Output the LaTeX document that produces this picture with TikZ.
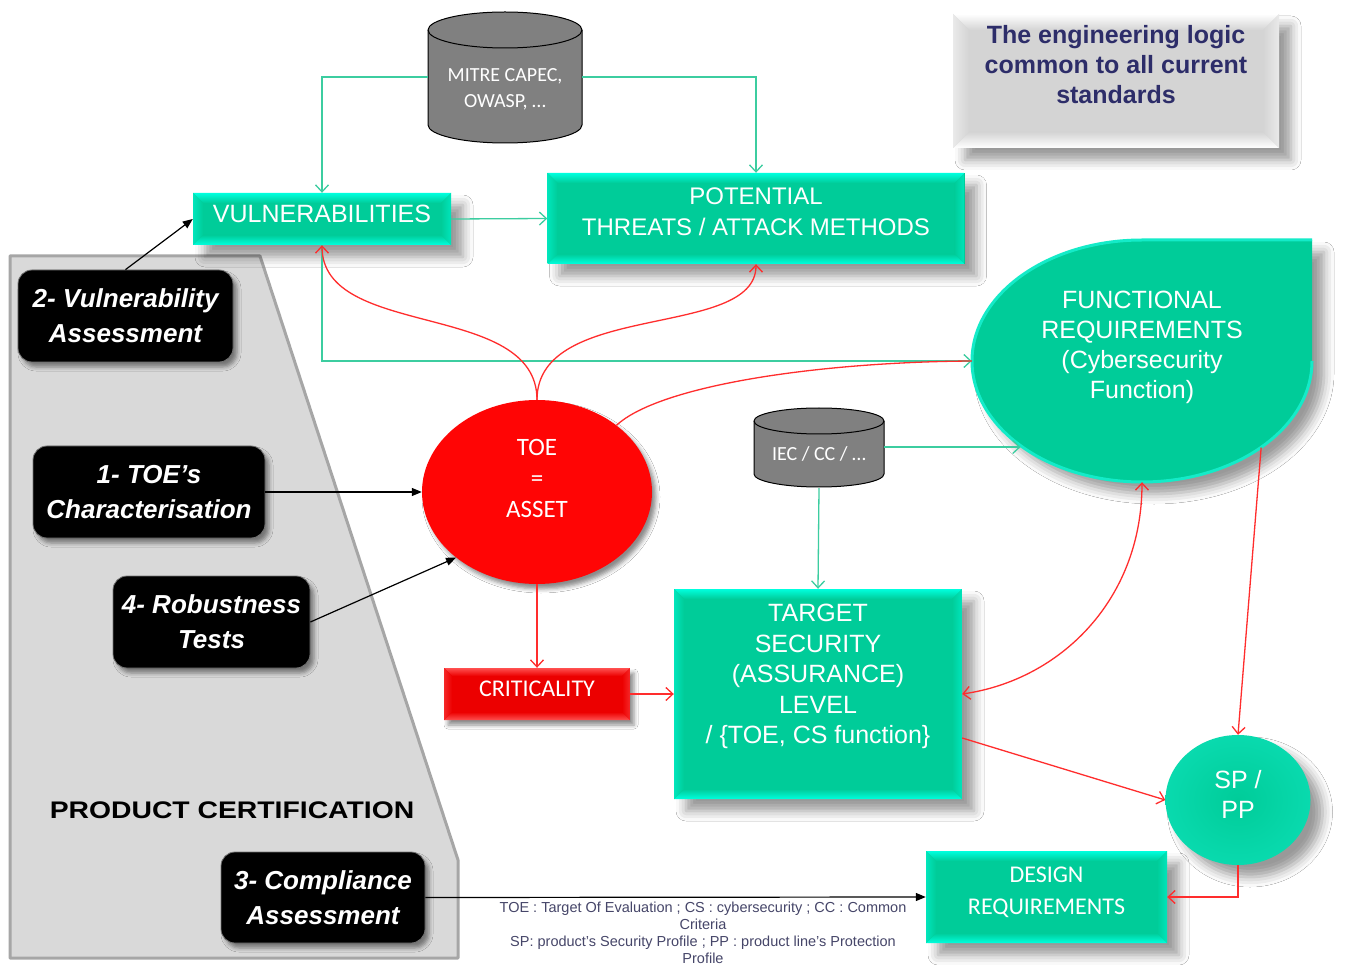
\documentclass[tikz,border=0pt]{standalone}
\usepackage{fontspec}
\usepackage{graphicx}
\setmainfont{Liberation Sans}
\newfontfamily\calfont{Carlito}
\usetikzlibrary{arrows.meta,shapes.geometric,shadows.blur}
\definecolor{tealM}{RGB}{0,204,153}
\definecolor{cyanB}{RGB}{0,255,222}
\definecolor{rimC}{RGB}{20,235,200}
\definecolor{greenL}{RGB}{60,205,160}
\definecolor{redL}{RGB}{255,45,45}
\definecolor{redM}{RGB}{236,0,0}
\definecolor{redE}{RGB}{255,80,80}
\definecolor{redT}{RGB}{255,5,5}
\definecolor{panelF}{RGB}{217,217,217}
\definecolor{panelD}{RGB}{166,166,166}
\definecolor{cylF}{RGB}{128,128,128}
\definecolor{titleC}{RGB}{45,45,105}
\definecolor{legendC}{RGB}{70,70,105}
\definecolor{greyM}{RGB}{212,212,212}
\begin{document}
\begin{tikzpicture}[x=1pt,y=-1pt,
  bevel/.style n args={3}{fill=#1, path picture={
    \path (path picture bounding box.north west) coordinate (bvA)
          (path picture bounding box.north east) coordinate (bvB)
          (path picture bounding box.south east) coordinate (bvC)
          (path picture bounding box.south west) coordinate (bvD);
    \shade[top color=#2, bottom color=#1] (bvA) -- (bvB) -- ([xshift=-#3,yshift=-#3]bvB) -- ([xshift=#3,yshift=-#3]bvA) -- cycle;
    \shade[top color=#1, bottom color=#2] (bvD) -- (bvC) -- ([xshift=-#3,yshift=#3]bvC) -- ([xshift=#3,yshift=#3]bvD) -- cycle;
    \shade[left color=#2!50!#1, right color=#1] (bvA) -- ([xshift=#3,yshift=-#3]bvA) -- ([xshift=#3,yshift=#3]bvD) -- (bvD) -- cycle;
    \shade[left color=#1, right color=#2!50!#1] (bvB) -- ([xshift=-#3,yshift=-#3]bvB) -- ([xshift=-#3,yshift=#3]bvC) -- (bvC) -- cycle;
  }},
  sh/.style={blur shadow={shadow xshift=12pt,shadow yshift=-12pt,shadow blur radius=10pt,shadow opacity=40}},
  shs/.style={blur shadow={shadow xshift=4pt,shadow yshift=-5pt,shadow blur radius=4pt,shadow opacity=45}},
  cbox/.style={rectangle, bevel={tealM}{cyanB}{10pt}, sh, text=white, align=center, inner sep=0pt,
    font=\fontsize{25}{30}\selectfont},
  blk/.style={rectangle, rounded corners=14pt, fill=black, draw=black!55, line width=0.8pt, shs,
    text=white, align=center, inner sep=0pt, font=\bfseries\itshape\fontsize{26}{35}\selectfont},
  cyltext/.style={text=white, align=center, inner sep=0pt, font=\calfont\fontsize{20}{26}\selectfont},
  cylline/.style={draw=black, line width=1pt},
  gline/.style={draw=greenL, line width=1.3pt, -{Straight Barb[length=7pt,width=13pt]}},
  rline/.style={draw=redL, line width=1.3pt, -{Straight Barb[length=7pt,width=13pt]}},
  rplain/.style={draw=redL, line width=1.3pt},
  kline/.style={draw=black, line width=1.2pt, -{Triangle[length=10pt,width=8pt]}}
]
\useasboundingbox (0,0) rectangle (1350,965);
\fill[white] (0,0) rectangle (1350,965);

% product certification panel
\draw[fill=panelF, draw=panelD, line width=3pt, line join=round]
  (10,256) -- (260,256) -- (458,860) -- (458,958) -- (10,958) -- cycle;
\node[inner sep=0pt, font=\bfseries\fontsize{24}{28}\selectfont] (pcert) at (232,810)
  {\scalebox{1.18}[1]{PRODUCT CERTIFICATION}};

% black step boxes
\node[blk, minimum width=215, minimum height=92] (vulnA) at (125.5,316) {2- Vulnerability\\Assessment};
\node[blk, minimum width=232, minimum height=92] (toesA) at (149,492) {1- TOE’s\\Characterisation};
\node[blk, minimum width=197, minimum height=92] (robA) at (211.5,622) {4- Robustness\\Tests};
\node[blk, minimum width=204, minimum height=91] (compA) at (323,897.5) {3- Compliance\\Assessment};

% title box
\node[rectangle, bevel={greyM}{white}{16pt}, sh, minimum width=326, minimum height=134,
  text=titleC, align=center, inner sep=0pt, text depth=34pt,
  font=\bfseries\fontsize{25}{30}\selectfont] (titleB) at (1116,81)
  {The engineering logic\\common to all current\\standards};

% cylinders
\fill[cylF] (428,30) -- (428,125) .. controls (428,134.9) and (462.5,143) .. (505,143)
  .. controls (547.5,143) and (582,134.9) .. (582,125) -- (582,30)
  .. controls (582,20.1) and (547.5,12) .. (505,12) .. controls (462.5,12) and (428,20.1) .. (428,30) -- cycle;
\draw[cylline] (428,30) -- (428,125) .. controls (428,134.9) and (462.5,143) .. (505,143)
  .. controls (547.5,143) and (582,134.9) .. (582,125) -- (582,30)
  .. controls (582,20.1) and (547.5,12) .. (505,12) .. controls (462.5,12) and (428,20.1) .. (428,30) -- cycle;
\draw[cylline] (428,30) .. controls (428,39.9) and (462.5,48) .. (505,48) .. controls (547.5,48) and (582,39.9) .. (582,30);
\node[cyltext, minimum width=154, minimum height=100] (mitre) at (505,89) {MITRE CAPEC,\\OWASP, …};

\fill[cylF] (754,421) -- (754,474) .. controls (754,481.2) and (783.1,487) .. (819,487)
  .. controls (854.9,487) and (884,481.2) .. (884,474) -- (884,421)
  .. controls (884,413.8) and (854.9,408) .. (819,408) .. controls (783.1,408) and (754,413.8) .. (754,421) -- cycle;
\draw[cylline] (754,421) -- (754,474) .. controls (754,481.2) and (783.1,487) .. (819,487)
  .. controls (854.9,487) and (884,481.2) .. (884,474) -- (884,421)
  .. controls (884,413.8) and (854.9,408) .. (819,408) .. controls (783.1,408) and (754,413.8) .. (754,421) -- cycle;
\draw[cylline] (754,421) .. controls (754,428.2) and (783.1,434) .. (819,434) .. controls (854.9,434) and (884,428.2) .. (884,421);
\node[cyltext, minimum width=130, minimum height=68] (iec) at (819,454) {IEC / CC / …};

% teal boxes
\node[cbox, minimum width=258, minimum height=52, text depth=11pt] (vuln) at (322,219) {VULNERABILITIES};
\node[cbox, minimum width=417, minimum height=91, text depth=13pt, font=\fontsize{24}{31}\selectfont] (pot) at (756,218.5)
  {POTENTIAL\\THREATS / ATTACK METHODS};
\node[cbox, minimum width=288, minimum height=210, text depth=40pt, font=\fontsize{25}{30.5}\selectfont] (target) at (818,694)
  {TARGET\\SECURITY\\(ASSURANCE)\\LEVEL\\/ \{TOE, CS function\}};
\node[cbox, minimum width=241, minimum height=92, text depth=12pt, font=\calfont\fontsize{24}{32}\selectfont] (design) at (1046.5,897)
  {DESIGN\\REQUIREMENTS};

% functional requirements drop
\fill[tealM, sh] (972,361) .. controls (972,294.2) and (1048.1,240) .. (1142,240) -- (1312,240) -- (1312,361)
  .. controls (1312,427.8) and (1235.9,482) .. (1142,482) .. controls (1048.1,482) and (972,427.8) .. (972,361) -- cycle;
\draw[rimC, line width=3pt] (1312,240) -- (1142,240) .. controls (1048.1,240) and (972,294.2) .. (972,361)
  .. controls (972,427.8) and (1048.1,482) .. (1142,482) .. controls (1235.9,482) and (1312,427.8) .. (1312,361);
\node[ellipse, minimum width=340, minimum height=242, inner sep=0pt, text=white, align=center,
  text depth=33pt, font=\fontsize{25}{30}\selectfont] (func) at (1142,361)
  {FUNCTIONAL\\REQUIREMENTS\\(Cybersecurity\\Function)};

% SP / PP
\node[ellipse, minimum width=145, minimum height=130, inner sep=0pt, inner color=tealM, outer color=tealM!55!rimC, sh,
  text=white, align=center, text depth=12pt, font=\fontsize{25}{30}\selectfont] (sp) at (1238,800) {SP /\\PP};

% TOE = ASSET
\node[ellipse, minimum width=230, minimum height=184, inner sep=0pt, fill=redT, shs,
  text=white, align=center, text depth=28pt, font=\calfont\fontsize{25}{31}\selectfont] (toe) at (537,492)
  {TOE\\=\\ASSET};

% criticality
\node[rectangle, bevel={redM}{redE}{8pt}, shs, minimum width=186, minimum height=52, inner sep=0pt,
  text=white, text depth=11pt, font=\calfont\fontsize{24}{28}\selectfont] (crit) at (537,694) {CRITICALITY};

% legend
\node[align=center, inner sep=0pt, text=legendC, font=\fontsize{14.5}{17}\selectfont] (legend) at (703,933)
  {TOE : Target Of Evaluation ; CS : cybersecurity ; CC : Common\\Criteria\\SP: product’s Security Profile ; PP : product line’s Protection\\Profile};

% green connectors
\draw[gline] ([yshift=12pt]mitre.west) -| (vuln.north);
\draw[gline] ([yshift=12pt]mitre.east) -| (pot.north);
\draw[gline] (vuln.east) -- (pot.west);
\draw[gline] (vuln.south) |- (func.west);
\coordinate (iecR) at ([yshift=7pt]iec.east);
\draw[gline] (iecR) -- (iecR -| func.215);
\draw[gline] (iec.south) -- (target.north);

% red connectors
\draw[rline] (toe.north) .. controls (537,300) and (322,340) .. (vuln.south);
\draw[rline] (toe.north) .. controls (537,300) and (756,340) .. (pot.south);
\draw[rplain] (toe.40) .. controls (660,385) and (820,362) .. (func.west);
\draw[rline] (toe.south) -- (crit.north);
\draw[rline] (crit.east) -- (target.west);
\draw[rline, {Straight Barb[length=7pt,width=13pt]}-{Straight Barb[length=7pt,width=13pt]}]
  (func.south) .. controls (1142,600) and (1060,680) .. (target.east);
\draw[rline] (func.324) -- (sp.north);
\draw[rline] ([yshift=-44pt]target.east) -- (sp.west);
\draw[rline] (sp.south) |- (design.east);

% black connectors
\draw[kline] (vulnA.north) -- (vuln.west);
\draw[kline] (toesA.east) -- (toe.west);
\draw[kline] (robA.east) -- (toe.219);
\draw[kline] (compA.east) -- (design.west);
\end{tikzpicture}
\end{document}
